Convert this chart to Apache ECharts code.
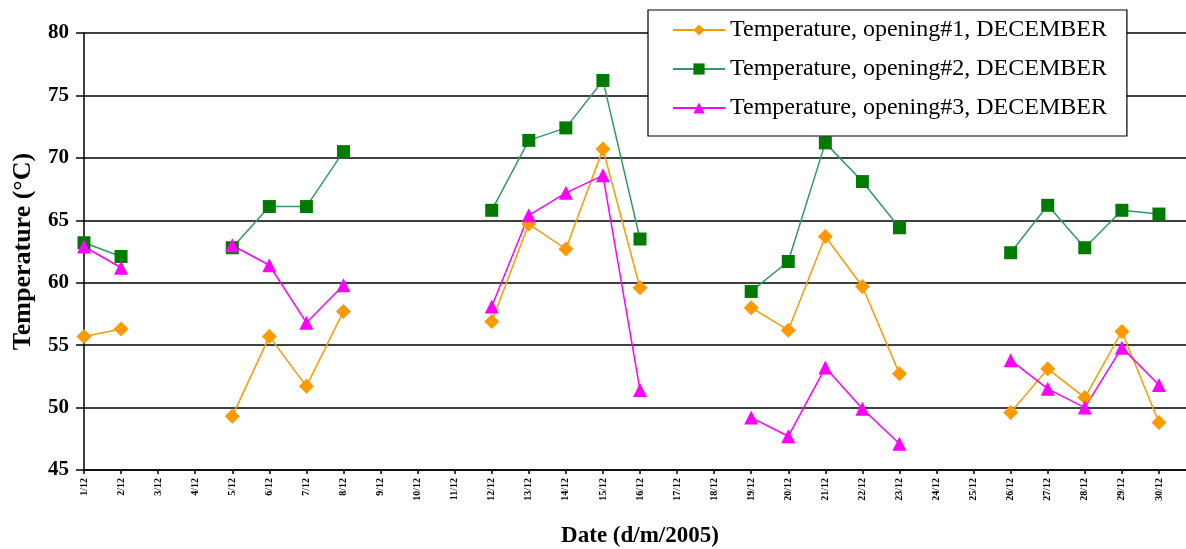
<!DOCTYPE html>
<html>
<head>
<meta charset="utf-8">
<script src="https://cdn.jsdelivr.net/npm/echarts@6/dist/echarts.min.js"></script>
<style>
  html, body { margin: 0; padding: 0; background: #fff; }
  #chart { width: 1186px; height: 549px; }
</style>
</head>
<body>
<div id="chart"></div>
<script>
// dates 1/12 .. 31/12
var days = [];
for (var d = 1; d <= 31; d++) { days.push(d + '/12'); }

var opening1 = [55.7, 56.3, null, null, 49.3, 55.7, 51.7, 57.7, null, null, null,
  56.9, 64.7, 62.7, 70.7, 59.6, null, null, 58.0, 56.2, 63.7, 59.7, 52.7, null, null,
  49.6, 53.1, 50.8, 56.1, 48.8, null];
var opening2 = [63.2, 62.1, null, null, 62.8, 66.1, 66.1, 70.5, null, null, null,
  65.8, 71.4, 72.4, 76.2, 63.5, null, null, 59.3, 61.7, 71.2, 68.1, 64.4, null, null,
  62.4, 66.2, 62.8, 65.8, 65.5, null];
var opening3 = [62.9, 61.2, null, null, 63.0, 61.4, 56.8, 59.8, null, null, null,
  58.1, 65.4, 67.2, 68.6, 51.4, null, null, 49.2, 47.7, 53.2, 49.9, 47.1, null, null,
  53.8, 51.5, 50.0, 54.8, 51.8, null];

var serif = '"Liberation Serif", "DejaVu Serif", serif';

var myChart = echarts.init(document.getElementById('chart'));
var option = {
  animation: false,
  grid: { left: 84, right: -10, top: 33, bottom: 79, containLabel: false, outerBoundsMode: 'none' },
  legend: {
    orient: 'vertical',
    left: 648,
    top: 10,
    padding: [8, 20, 16, 24],
    itemGap: 15,
    itemWidth: 52,
    itemHeight: 14,
    backgroundColor: '#fff',
    borderColor: '#000',
    borderWidth: 1.2,
    textStyle: { fontFamily: serif, fontSize: 24, color: '#000' },
    data: ['Temperature, opening#1, DECEMBER', 'Temperature, opening#2, DECEMBER', 'Temperature, opening#3, DECEMBER']
  },
  xAxis: {
    type: 'category',
    boundaryGap: false,
    data: days,
    name: 'Date (d/m/2005)',
    nameLocation: 'middle',
    nameGap: 55,
    nameTextStyle: { fontFamily: serif, fontSize: 23, fontWeight: 'bold', color: '#000' },
    axisLine: { lineStyle: { color: '#000', width: 1.5 } },
    axisTick: { alignWithLabel: true, interval: 0, length: 4, lineStyle: { color: '#000', width: 1.5 } },
    axisLabel: { interval: 0, rotate: 90, fontSize: 10, fontWeight: 'bold', color: '#000', fontFamily: serif, margin: 8 },
    splitLine: { show: false }
  },
  yAxis: {
    type: 'value',
    min: 45,
    max: 80,
    interval: 5,
    name: 'Temperature (°C)',
    nameLocation: 'middle',
    nameGap: 48,
    nameTextStyle: { fontFamily: serif, fontSize: 26, fontWeight: 'bold', color: '#000' },
    axisLine: { show: true, lineStyle: { color: '#000', width: 1.5 } },
    axisTick: { show: true, length: 8, lineStyle: { color: '#000', width: 1.5 } },
    axisLabel: { fontFamily: serif, fontSize: 21, fontWeight: 'bold', color: '#000', margin: 15 },
    splitLine: { show: true, lineStyle: { color: '#000', width: 1.5 } }
  },
  series: [{
    name: 'Temperature, opening#1, DECEMBER',
    type: 'line',
    data: opening1,
    connectNulls: false,
    symbol: 'diamond',
    symbolSize: 15,
    itemStyle: { color: '#FF9900' },
    lineStyle: { color: '#FF9900', width: 1.5 }
  }, {
    name: 'Temperature, opening#2, DECEMBER',
    type: 'line',
    data: opening2,
    connectNulls: false,
    symbol: 'rect',
    symbolSize: 13,
    itemStyle: { color: '#007A00' },
    lineStyle: { color: '#339966', width: 1.5 }
  }, {
    name: 'Temperature, opening#3, DECEMBER',
    type: 'line',
    data: opening3,
    connectNulls: false,
    symbol: 'triangle',
    symbolSize: 14,
    itemStyle: { color: '#FF00FF' },
    lineStyle: { color: '#FF00FF', width: 1.5 }
  }]
};
myChart.setOption(option);
</script>
</body>
</html>
